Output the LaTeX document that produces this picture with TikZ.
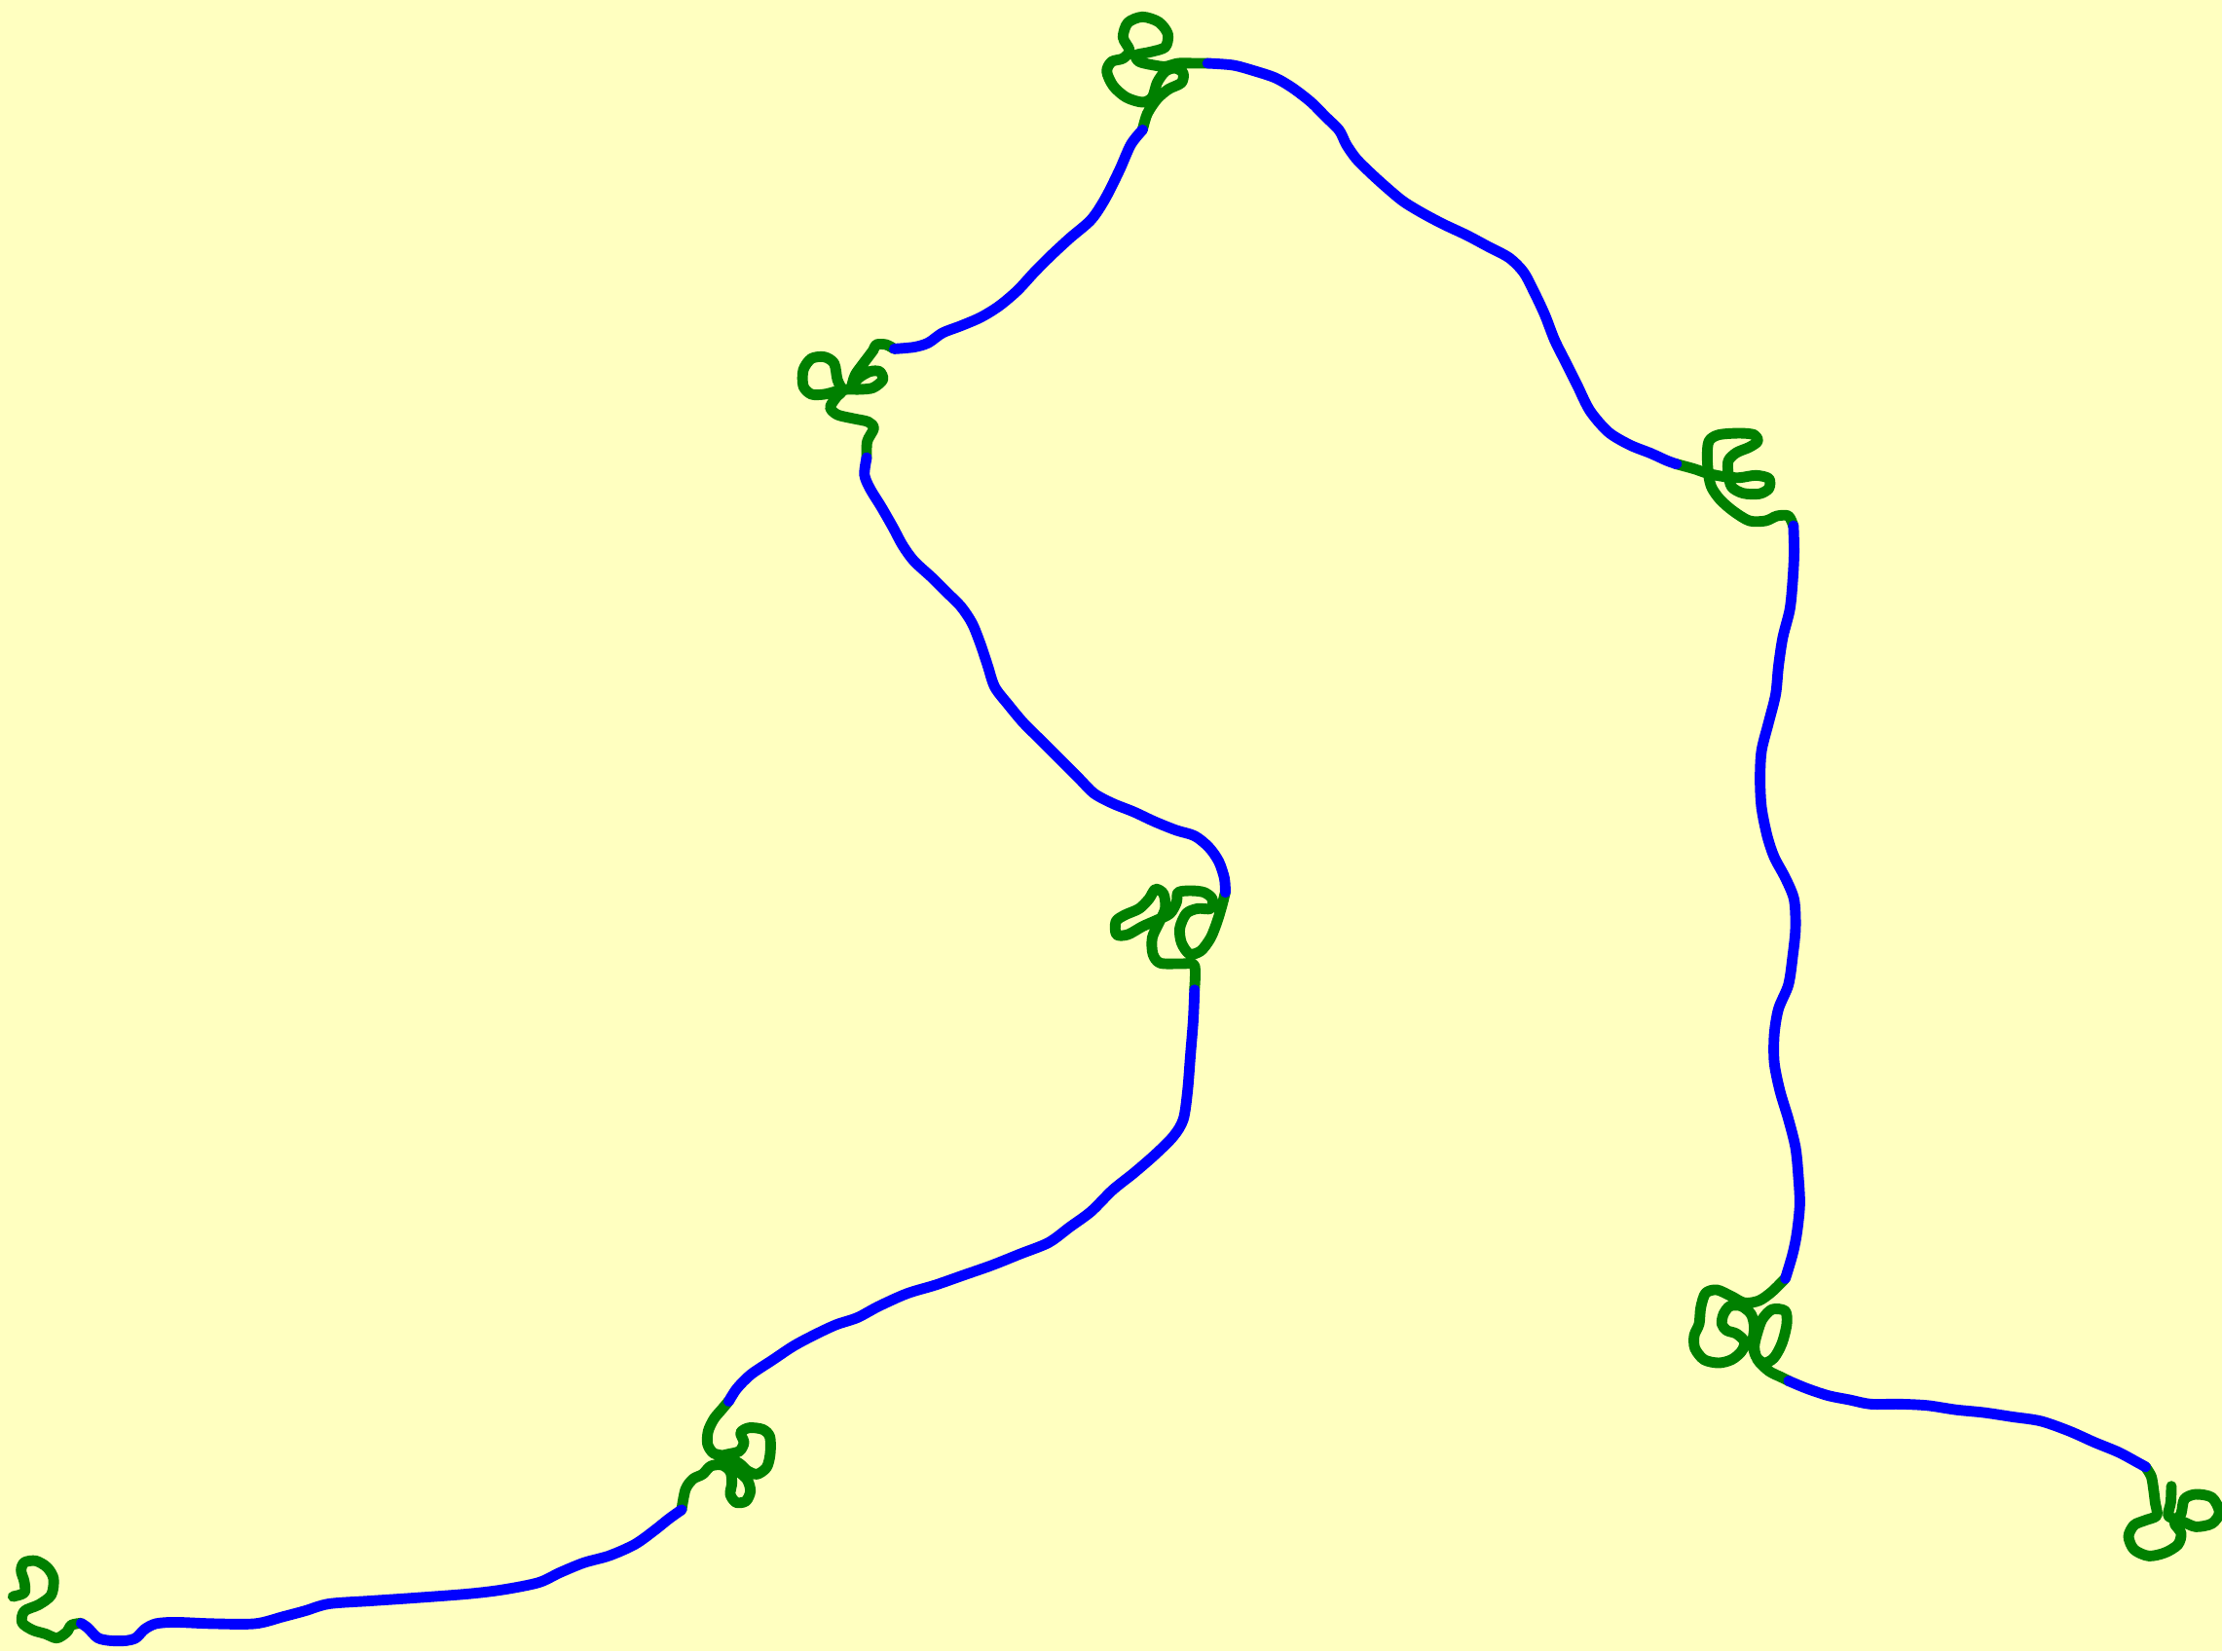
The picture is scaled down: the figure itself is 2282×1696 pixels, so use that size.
\documentclass[tikz,border=0pt]{standalone}
\definecolor{bg}{HTML}{FFFFC0}
\definecolor{walkgreen}{HTML}{008000}
\definecolor{walkblue}{HTML}{0000FF}
\begin{document}
\begin{tikzpicture}[x=0.01cm,y=-0.01cm,
  walk/.style={line width=3.1pt, line cap=round, line join=round, smooth, tension=0.5},
  bl/.style={walk, draw=walkblue},
  gr/.style={walk, draw=walkgreen},
  disp/.style={scale=1.4554},
  knot/.style={shift={#1}, scale=0.33333}]
\fill[bg] (0,0) rectangle (2282,1696);
\useasboundingbox (0,0) rectangle (2282,1696);
% knot 1
\begin{scope}[knot={(0,1580)}]
\coordinate (k1b) at (250,262);
\draw[gr] plot coordinates {(40,180) (75,168) (75,135) (65,100) (75,75) (110,70) (145,90) (165,125) (158,175) (120,205) (75,225) (68,260) (100,283) (140,295) (175,308) (205,290) (220,268) (250,262)};
\end{scope}
% knot 2
\begin{scope}[knot={(680,1420)}]
\coordinate (k2a) at (60,392);
\coordinate (k2b) at (205,58);
\draw[gr] plot coordinates {(60,392) (72,330) (95,298) (125,283) (150,258) (185,255) (210,275) (215,310) (210,345) (228,370) (258,366) (272,335) (262,300) (235,275) (200,250) (175,230) (200,222) (238,212) (252,185) (242,155) (268,140) (310,145) (332,168) (333,220) (322,262) (292,283) (262,272) (238,250) (195,228) (158,218) (140,190) (142,150) (160,112) (185,82) (205,58)};
\end{scope}
% knot 3
\begin{scope}[knot={(1130,880)}]
\coordinate (k3a) at (290,410);
\coordinate (k3b) at (385,110);
\draw[gr] plot coordinates {(290,410) (290,335) (250,330) (185,328) (162,300) (160,250) (180,205) (200,160) (195,115) (170,100) (150,130) (120,160) (75,180) (48,200) (50,240) (85,240) (130,215) (175,195) (215,175) (235,140) (240,110) (280,105) (320,110) (345,130) (340,160) (300,160) (265,175) (245,220) (250,265) (275,300) (310,290) (340,250) (360,200) (375,150) (385,110)};
\end{scope}
% knot 4
\begin{scope}[knot={(810,340)}]
\coordinate (k4a) at (240,390);
\coordinate (k4b) at (325,55);
\draw[gr] plot coordinates {(240,390) (242,340) (262,300) (245,280) (200,270) (150,258) (128,235) (150,200) (165,185) (150,150) (140,100) (110,80) (70,85) (45,120) (45,170) (70,195) (110,195) (150,185) (180,180) (220,180) (260,175) (290,150) (280,125) (250,125) (215,145) (195,170) (205,135) (230,100) (260,60) (270,42) (300,42) (325,55)};
\end{scope}
% knot 5
\begin{scope}[knot={(1120,0)}]
\coordinate (k5a) at (160,400);
\coordinate (k5b) at (360,195);
\draw[gr] plot coordinates {(160,400) (175,350) (205,305) (240,275) (280,255) (285,225) (260,210) (230,220) (205,255) (190,300) (160,315) (110,300) (70,265) (50,220) (65,190) (100,180) (120,155) (100,115) (115,70) (160,52) (210,68) (238,105) (230,145) (185,160) (140,170) (150,190) (190,200) (230,205) (270,195) (320,195) (360,195)};
\end{scope}
% knot 6
\begin{scope}[knot={(1710,420)}]
\coordinate (k6a) at (35,170);
\coordinate (k6b) at (395,360);
\draw[gr] plot coordinates {(35,170) (90,185) (135,200) (190,210) (230,212) (280,205) (320,215) (320,245) (290,262) (240,260) (205,240) (195,200) (195,160) (220,135) (260,118) (285,100) (275,80) (230,75) (165,80) (135,100) (130,150) (135,210) (145,245) (170,280) (210,315) (260,345) (310,345) (345,330) (380,330) (395,360)};
\end{scope}
% knot 7
\begin{scope}[knot={(1720,1300)}]
\coordinate (k7a) at (340,40);
\coordinate (k7b) at (350,355);
\draw[gr] plot coordinates {(340,40) (300,80) (260,108) (215,115) (175,95) (130,75) (95,85) (80,130) (75,180) (60,215) (62,255) (90,290) (135,300) (175,290) (205,265) (215,235) (190,210) (160,200) (145,180) (150,150) (170,125) (205,125) (235,150) (245,190) (240,240) (250,280) (275,300) (305,285) (330,240) (345,180) (340,140) (300,135) (270,165) (255,205) (245,250) (255,290) (290,325) (330,345) (350,355)};
\end{scope}
% knot 8
\begin{scope}[knot={(2170,1490)}]
\coordinate (k8a) at (100,50);
\draw[gr] plot coordinates {(100,50) (118,80) (125,120) (130,160) (135,200) (100,215) (65,230) (48,265) (65,305) (110,325) (160,315) (200,290) (210,255) (190,225) (215,220) (255,235) (305,225) (328,190) (305,145) (255,135) (220,150) (210,195) (195,210) (170,200) (178,160) (180,110)};
\end{scope}
% blue segments
\begin{scope}[disp]
\draw[bl] plot coordinates {(k1b) (62,1149) (69,1156) (78,1158) (89,1158) (96,1156) (102,1150) (110,1146) (124,1145) (150,1146) (180,1146) (200,1141) (215,1137) (232,1132) (260,1130) (290,1128) (330,1125) (355,1122) (380,1117) (395,1110) (412,1103) (430,1098) (448,1090) (462,1080) (472,1072) (k2a)};
\draw[bl] plot coordinates {(k2b) (520,980) (530,970) (545,960) (560,950) (575,942) (590,935) (605,930) (620,922) (640,913) (660,907) (680,900) (700,893) (720,885) (740,877) (755,866) (770,855) (785,840) (800,828) (815,815) (828,802) (835,790) (838,770) (840,745) (842,720) (k3a)};
\draw[bl] plot coordinates {(k3b) (864,620) (860,608) (853,598) (843,590) (830,586) (815,580) (800,573) (785,567) (772,560) (762,550) (752,540) (742,530) (732,520) (722,510) (712,498) (702,485) (697,470) (692,455) (686,440) (678,428) (668,418) (658,408) (645,396) (637,385) (630,372) (622,358) (614,345) (610,335) (k4a)};
\draw[bl] plot coordinates {(k4b) (645,245) (655,242) (665,235) (678,230) (692,224) (705,216) (718,205) (730,192) (742,180) (755,168) (770,155) (780,140) (790,120) (798,102) (k5a)};
\draw[bl] plot coordinates {(k5b) (870,46) (885,50) (900,55) (912,62) (925,72) (935,82) (945,92) (950,102) (957,112) (967,122) (978,132) (990,142) (1003,150) (1018,158) (1035,166) (1050,174) (1065,182) (1075,192) (1082,205) (1090,222) (1097,240) (1105,256) (1113,272) (1122,290) (1135,305) (1150,314) (1165,320) (1176,325) (k6a)};
\draw[bl] plot coordinates {(k6b) (1266,390) (1265,410) (1263,430) (1258,450) (1255,470) (1253,490) (1248,510) (1243,530) (1242,550) (1243,570) (1247,590) (1252,605) (1260,620) (1266,635) (1267,655) (1265,675) (1262,695) (1255,712) (1252,730) (1252,750) (1256,770) (1262,790) (1267,810) (1269,830) (1270,850) (1268,870) (1265,885) (k7a)};
\draw[bl] plot coordinates {(k7b) (1275,980) (1290,985) (1305,988) (1320,991) (1340,991) (1360,992) (1380,995) (1400,997) (1420,1000) (1440,1003) (1460,1010) (1478,1018) (1495,1025) (1508,1032) (k8a)};
\end{scope}
\end{tikzpicture}
\end{document}
